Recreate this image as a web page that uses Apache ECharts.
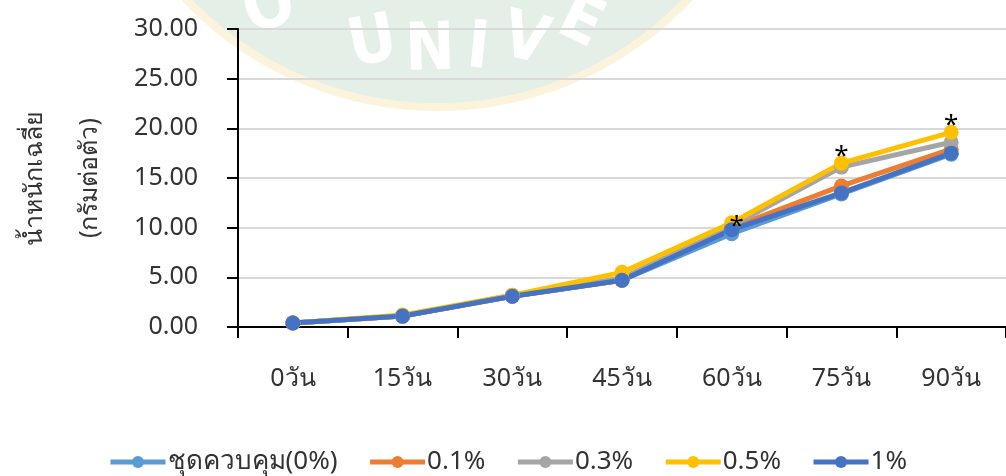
<!DOCTYPE html>
<html>
<head>
<meta charset="utf-8">
<script src="https://cdn.jsdelivr.net/npm/echarts@6/dist/echarts.min.js"></script>
<style>
  html, body { margin: 0; padding: 0; background: #fff; }
  #chart { width: 1006px; height: 476px; }
</style>
</head>
<body>
<div id="chart"></div>
<script>
// ข้อมูลกราฟ
const days = ['0วัน', '15วัน', '30วัน', '45วัน', '60วัน', '75วัน', '90วัน'];
const control = [0.4, 1.1, 3.1, 4.7, 9.4, 13.4, 17.4];
const p01 = [0.4, 1.1, 3.1, 4.7, 10.0, 14.2, 17.9];
const p03 = [0.4, 1.1, 3.2, 4.9, 10.2, 16.1, 18.6];
const p05 = [0.4, 1.2, 3.2, 5.5, 10.5, 16.5, 19.6];
const p1 = [0.4, 1.1, 3.1, 4.7, 9.8, 13.5, 17.5];
const stars = ['', '', '', '', '*', '*', '*'];
const yTicks = [0, 5, 10, 15, 20, 25, 30];

const font = '"Noto Sans", sans-serif';
const chart = echarts.init(document.getElementById('chart'));

function line (name, data, color) {
  return {
    name: name,
    type: 'line',
    data: data,
    symbol: 'circle',
    symbolSize: 15,
    lineStyle: { width: 5, color: color },
    itemStyle: { color: color },
    animation: false
  };
}

const yellow = line('0.5%', p05, '#FFC000');
// เครื่องหมาย * แสดงความแตกต่าง
yellow.data = p05.map(function (v, i) {
  if (!stars[i]) return v;
  return {
    value: v,
    label: {
      show: true,
      formatter: stars[i],
      position: 'top',
      distance: i === 4 ? -24 : -14,
      offset: i === 4 ? [5, 0] : [0, 0],
      fontSize: 26,
      color: '#000',
      fontFamily: font
    }
  };
});

// ลายน้ำพื้นหลัง
const wm = [
  { t: 'O', x: 270, y: 10, r: 0.35 },
  { t: 'U', x: 373, y: 45, r: 0.2 },
  { t: 'N', x: 430, y: 52, r: 0.03 },
  { t: 'I', x: 478, y: 50, r: -0.1 },
  { t: 'V', x: 525, y: 42, r: -0.25 },
  { t: 'E', x: 580, y: 24, r: -0.45 }
];

chart.setOption({
  backgroundColor: '#fff',
  textStyle: { fontFamily: font },
  graphic: [
    {
      type: 'circle',
      z: -10,
      shape: { cx: 437, cy: -239, r: 346 },
      style: { fill: '#e3efe7', stroke: '#fbf3dc', lineWidth: 8 }
    }
  ].concat(wm.map(function (w) {
    return {
      type: 'text',
      z: -9,
      x: w.x,
      y: w.y,
      rotation: w.r,
      style: {
        text: w.t,
        fill: '#ffffff',
        font: 'bold 66px "DejaVu Sans Condensed", sans-serif',
        align: 'center',
        verticalAlign: 'middle'
      }
    };
  })),
  legend: {
    top: 444,
    left: 103,
    itemWidth: 55,
    itemHeight: 15,
    itemGap: 30,
    lineStyle: { width: 5 },
    textStyle: { fontSize: 26, color: '#333', fontFamily: font, padding: [0, 0, 0, -3] },
    data: ['ชุดควบคุม(0%)', '0.1%', '0.3%', '0.5%', '1%']
  },
  grid: { left: 238, right: 0, top: 29, bottom: 149, outerBoundsMode: 'none', containLabel: false },
  xAxis: {
    type: 'category',
    data: days,
    boundaryGap: true,
    axisLine: { lineStyle: { color: '#000', width: 2 } },
    axisTick: { show: true, length: 11, lineStyle: { color: '#000', width: 2 } },
    axisLabel: { fontSize: 25, color: '#333', margin: 39 }
  },
  yAxis: {
    type: 'value',
    min: yTicks[0],
    max: yTicks[yTicks.length - 1],
    interval: 5,
    name: 'น้ำหนักเฉลี่ย\n(กรัมต่อตัว)',
    nameLocation: 'middle',
    nameRotate: 90,
    nameGap: 121,
    nameMoveOverlap: false,
    nameTextStyle: { fontSize: 25, color: '#333', lineHeight: 55 },
    axisLine: { show: true, lineStyle: { color: '#000', width: 2 } },
    axisTick: { show: true, length: 11, lineStyle: { color: '#000', width: 2 } },
    axisLabel: {
      fontSize: 25, color: '#333', margin: 40,
      formatter: function (v) { return v.toFixed(2); }
    },
    splitLine: { lineStyle: { color: '#d9d9d9', width: 2 } }
  },
  series: [
    line('ชุดควบคุม(0%)', control, '#5B9BD5'),
    line('0.1%', p01, '#ED7D31'),
    line('0.3%', p03, '#A5A5A5'),
    yellow,
    line('1%', p1, '#4472C4')
  ]
});
</script>
</body>
</html>
